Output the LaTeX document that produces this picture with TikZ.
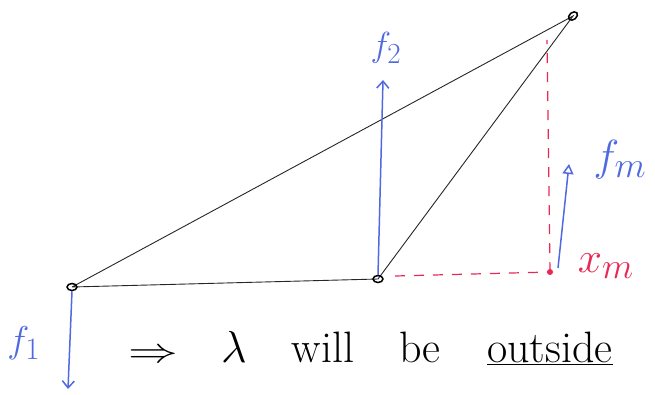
\documentclass[tikz,border=0pt]{standalone}
\usepackage{fontspec}
\usepackage{graphicx}
\usetikzlibrary{arrows.meta,shapes.geometric}
\definecolor{penblue}{RGB}{80,105,225}
\definecolor{penred}{RGB}{232,40,85}
\newcommand{\hugemath}[2]{\scalebox{#1}{\Huge$#2$}}
\begin{document}
\begin{tikzpicture}[x=1pt,y=-1pt,
  edge/.style={line width=0.9pt,black!85},
  force/.style={line width=1.5pt,penblue,-{Straight Barb[length=7pt,width=12pt]}},
  openforce/.style={line width=1.5pt,penblue,-{Triangle[open,length=10pt,width=11pt]}},
  guide/.style={line width=1.2pt,penred,dash pattern=on 10pt off 9pt},
  joint/.style={draw,ellipse,line width=1.5pt,minimum width=10pt,minimum height=7pt,inner sep=0pt},
  lbl/.style={inner sep=0pt},
  words/.style={font=\fontsize{44}{50}\selectfont,anchor=base,inner sep=0pt}]
\useasboundingbox (0,0) rectangle (655,394);
\coordinate (A) at (72,287);
\coordinate (B) at (378,279);
\coordinate (C) at (573,16);
\coordinate (X) at (550,272);
\draw[edge] (A) -- (B) -- (C) -- (A);
\node[joint] (jA) at (A) {};
\node[joint] (jB) at (B) {};
\node[joint,rotate=40] (jC) at (C) {};
% red guides
\coordinate (vtop) at (547,40);
\coordinate (hstart) at (395,276);
\draw[guide] (X) -- (vtop);
\draw[guide] (hstart) -- (X);
\fill[penred] (X) circle (3pt);
% forces
\coordinate (f2tip) at (383,80);
\draw[force] (jB.north) -- (f2tip);
\node[lbl,text=penblue] (f2) at (386,48) {\hugemath{1.4}{f_2}};
\coordinate (fmbase) at (558,268);
\coordinate (fmtip) at (569,164);
\draw[openforce] (fmbase) -- (fmtip);
\node[lbl,text=penblue] (fm) at (620,160) {\hugemath{1.75}{f_m}};
\coordinate (f1tip) at (68,389);
\draw[force] (jA.south) -- (f1tip);
\node[lbl,text=penblue] (f1) at (24,343) {\hugemath{1.5}{f_1}};
\node[lbl,text=penred] (xm) at (606,266) {\hugemath{1.75}{x_m}};
% sentence
\node[words] (imp) at (153,362) {\scalebox{2}[1.4]{\Huge$\Rightarrow$}};
\node[words] (lam) at (234,362) {\hugemath{1.8}{\lambda}};
\node[words] (will) at (323,362) {will};
\node[words] (be) at (420,362) {be};
\node[words] (out) at (550,362) {\underline{outside}};
\end{tikzpicture}
\end{document}
